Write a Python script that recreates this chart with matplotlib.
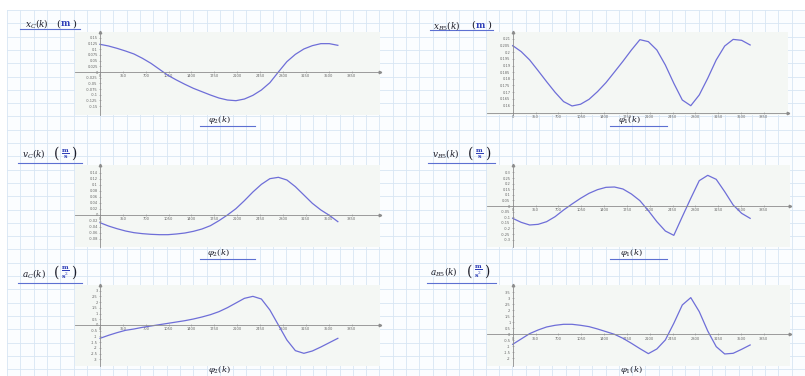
import numpy as np
import matplotlib.pyplot as plt
from matplotlib.patches import Rectangle

plt.rcParams['mathtext.fontset'] = 'dejavuserif'

W, H = 805, 376

# 转角采样点 k
phi = [0, 130, 260, 390, 520, 650, 780, 910, 1040, 1170, 1300, 1430, 1560, 1690,
       1820, 1950, 2080, 2210, 2340, 2470, 2600, 2730, 2860, 2990, 3120, 3250,
       3380, 3510, 3640]
phi_ticks = [0, 350, 700, 1050, 1400, 1750, 2100, 2450, 2800, 3150, 3500, 3850]

# 位移 (m)
x_C = [0.1221, 0.1147, 0.1044, 0.0926, 0.0794, 0.0603, 0.0382, 0.0118, -0.0147,
       -0.0353, -0.0544, -0.0721, -0.0868, -0.1015, -0.1147, -0.1235, -0.1265,
       -0.1191, -0.1029, -0.0794, -0.0471, 0.0, 0.0456, 0.0779, 0.1015, 0.1162,
       0.1250, 0.1250, 0.1176]
x_B5 = [0.2050, 0.2005, 0.1942, 0.1861, 0.1778, 0.1698, 0.1628, 0.1595, 0.1608,
        0.1645, 0.1703, 0.1771, 0.1851, 0.1932, 0.2017, 0.2095, 0.2080, 0.2017,
        0.1904, 0.1766, 0.1640, 0.1597, 0.1678, 0.1804, 0.1942, 0.2047, 0.2097,
        0.2090, 0.2055]
# 速度 (m/s)
v_C = [-0.0256, -0.0367, -0.0456, -0.0533, -0.0589, -0.0622, -0.0644, -0.0656,
       -0.0656, -0.0633, -0.0600, -0.0544, -0.0467, -0.0356, -0.0189, 0.0, 0.0211,
       0.0478, 0.0767, 0.1022, 0.1211, 0.1256, 0.1167, 0.0944, 0.0667, 0.0389,
       0.0167, -0.0011, -0.0222]
v_B5 = [-0.1101, -0.1458, -0.1696, -0.1637, -0.1399, -0.0952, -0.0357, 0.0179,
        0.0685, 0.1131, 0.1458, 0.1667, 0.1696, 0.1518, 0.1071, 0.0476, -0.0417,
        -0.1399, -0.2232, -0.2620, -0.0952, 0.0685, 0.2262, 0.2738, 0.2381, 0.1280,
        0.0089, -0.0655, -0.1101]
# 加速度 (m/s^2)
a_C = [-1.163, -0.901, -0.669, -0.465, -0.349, -0.203, -0.087, 0.029, 0.145, 0.262,
       0.378, 0.523, 0.698, 0.901, 1.163, 1.512, 1.919, 2.326, 2.500, 2.267, 1.308,
       0.0, -1.308, -2.238, -2.471, -2.267, -1.919, -1.541, -1.163]
a_B5 = [-0.833, -0.389, 0.056, 0.361, 0.611, 0.750, 0.833, 0.833, 0.750, 0.639,
        0.444, 0.222, 0.0, -0.333, -0.750, -1.194, -1.611, -1.222, -0.472, 0.917,
        2.444, 3.056, 1.889, 0.278, -1.028, -1.639, -1.583, -1.250, -0.889]

yt_x_C = [-0.15, -0.125, -0.1, -0.075, -0.05, -0.025, 0, 0.025, 0.05, 0.075, 0.1, 0.125, 0.15]
yt_x_B5 = [0.16, 0.165, 0.17, 0.175, 0.18, 0.185, 0.19, 0.195, 0.2, 0.205, 0.21]
yt_v_C = [-0.08, -0.06, -0.04, -0.02, 0, 0.02, 0.04, 0.06, 0.08, 0.1, 0.12, 0.14]
yt_v_B5 = [-0.3, -0.25, -0.2, -0.15, -0.1, -0.05, 0, 0.05, 0.1, 0.15, 0.2, 0.25, 0.3]
yt_a_C = [-3, -2.5, -2, -1.5, -1, -0.5, 0, 0.5, 1, 1.5, 2, 2.5, 3]
yt_a_B5 = [-2, -1.5, -1, -0.5, 0, 0.5, 1, 1.5, 2, 2.5, 3, 3.5]

CURVE = '#6e6ed8'
AXIS = '#8c8c8c'
ULINE = '#5d70d2'
TXT = '#1e1e2a'
UNIT = '#2f3fb8'

fig = plt.figure(figsize=(W / 100, H / 100), dpi=100)

# 工作表背景网格
bg = fig.add_axes([0, 0, 1, 1])
bg.set_xlim(0, W)
bg.set_ylim(H, 0)
bg.axis('off')
bg.add_patch(Rectangle((7, 10), W - 7, H - 10, fc='#fbfdff', ec='none'))
for gx in np.arange(7, W, 13.3):
    bg.plot([gx, gx], [10, H], color='#d8e6f4', lw=0.6)
for gy in np.arange(10, H, 13.3):
    bg.plot([7, W], [gy, gy], color='#d8e6f4', lw=0.6)


def panel(box, ox, oy, yref, xpx, ypx, ystep, vals, yticks, xaxis_at=0.0):
    x0, y0, x1, y1 = box
    kx = 350.0 / xpx
    ky = ystep / ypx
    ax = fig.add_axes([x0 / W, 1 - y1 / H, (x1 - x0) / W, (y1 - y0) / H])
    ax.set_facecolor('#f4f7f4')
    ax.set_xlim((x0 - ox) * kx, (x1 - ox) * kx)
    ax.set_ylim(yref - (y1 - oy) * ky, yref + (oy - y0) * ky)
    for s in ('top', 'right'):
        ax.spines[s].set_visible(False)
    ax.spines['left'].set_position(('data', 0))
    ax.spines['bottom'].set_position(('data', xaxis_at))
    for s in ('left', 'bottom'):
        ax.spines[s].set_color(AXIS)
        ax.spines[s].set_linewidth(0.6)
    ax.set_xticks(phi_ticks)
    ax.set_xticklabels([str(t) for t in phi_ticks])
    ax.set_yticks(yticks)
    ax.set_yticklabels(['{:g}'.format(t) for t in yticks])
    ax.tick_params(labelsize=2.6, colors=AXIS, labelcolor='#666666', length=1.6,
                   width=0.4, pad=0.8, direction='inout')
    ax.plot(1, xaxis_at, '>', ms=1.8, color=AXIS, transform=ax.get_yaxis_transform(),
            clip_on=False)
    ax.plot(0, 1, '^', ms=1.8, color=AXIS, transform=ax.get_xaxis_transform(),
            clip_on=False)
    ax.plot(phi, vals, color=CURVE, lw=0.9)
    return ax


panel((75, 32, 380, 115), 100, 72, 0.0, 22.87, 5.67, 0.025, x_C, yt_x_C)
panel((487, 32, 788, 115), 512.7, 39, 0.21, 22.83, 6.63, 0.005, x_B5, yt_x_B5, xaxis_at=0.154)
panel((75, 165, 380, 247), 100, 215, 0.0, 22.87, 6.0, 0.02, v_C, yt_v_C)
panel((487, 165, 790, 247), 512.7, 206, 0.0, 22.83, 5.6, 0.05, v_B5, yt_v_B5)
panel((75, 285, 380, 366), 100, 325, 0.0, 22.87, 5.73, 0.5, a_C, yt_a_C)
panel((487, 285, 790, 366), 512.7, 334.3, 0.0, 22.83, 6.0, 0.5, a_B5, yt_a_B5)


def heading(x, y, name, unit, ux, line, tall=False):
    bg.text(x, y, name, ha='left', va='center', fontsize=6.4, color=TXT)
    # 单位：黑色括号，蓝色字母
    psize = 10 if tall else 7
    half = 8.5 if tall else 8
    bg.text(ux - half, y, '(', ha='center', va='center', fontsize=psize, color=TXT,
            family='DejaVu Serif')
    bg.text(ux + half, y, ')', ha='center', va='center', fontsize=psize, color=TXT,
            family='DejaVu Serif')
    bg.text(ux, y, unit, ha='center', va='center', fontsize=6.4, color=UNIT)
    bg.plot(line[:2], [line[2], line[2]], color=ULINE, lw=0.8)


frac_v = r'$\frac{\mathbf{m}}{\mathbf{s}}$'
frac_a = r'$\frac{\mathbf{m}}{\mathbf{s}^2}$'

heading(25, 24, r'$x_C(k)$', r'$\mathbf{m}$', 66, (20, 80, 29.3))
heading(433, 25, r'$x_{B5}(k)$', r'$\mathbf{m}$', 481, (430, 493, 30))
heading(22, 154, r'$v_C(k)$', frac_v, 65.5, (18, 82, 163.3), tall=True)
heading(432, 154, r'$v_{B5}(k)$', frac_v, 479.5, (428, 495, 163.3), tall=True)
heading(22, 273, r'$a_C(k)$', frac_a, 65.5, (18, 82, 283.3), tall=True)
heading(430, 272, r'$a_{B5}(k)$', frac_a, 478.5, (427, 496, 283.3), tall=True)

# 横轴标签
for cx, cy, lab, line in [(219, 120, r'$\varphi_2(k)$', (200, 255, 125.5)),
                          (629, 120.5, r'$\varphi_1(k)$', (610, 667, 125.5)),
                          (218, 253.3, r'$\varphi_2(k)$', (200, 255, 259.3)),
                          (631, 253.3, r'$\varphi_1(k)$', (610, 667, 259.3)),
                          (219, 370.5, r'$\varphi_2(k)$', None),
                          (631, 370.5, r'$\varphi_1(k)$', None)]:
    bg.text(cx, cy, lab, ha='center', va='center', fontsize=6, color=TXT)
    if line:
        bg.plot(line[:2], [line[2], line[2]], color=ULINE, lw=0.8)

fig.savefig('out.png', dpi=100)
